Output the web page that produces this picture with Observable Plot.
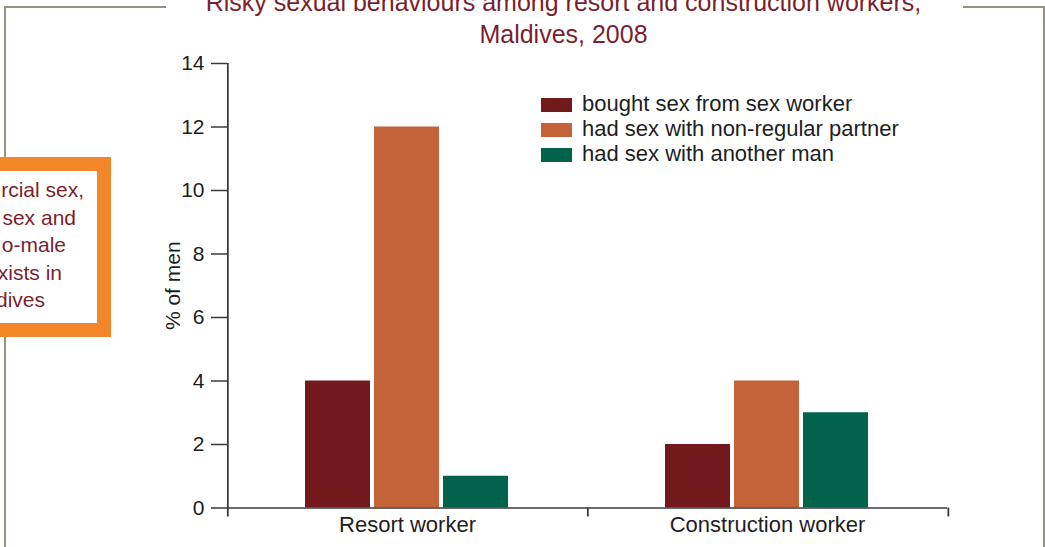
<!DOCTYPE html>
<html>
<head>
<meta charset="utf-8">
<script src="https://cdn.jsdelivr.net/npm/d3@7"></script>
<script src="https://cdn.jsdelivr.net/npm/@observablehq/plot@0.6"></script>
<style>
  html, body { margin: 0; padding: 0; background: #fff; }
  #wrap { position: relative; width: 1045px; height: 547px; overflow: hidden; background: #fff;
          font-family: "Liberation Sans", Arial, sans-serif; }
  #chart { position: absolute; left: 0; top: 0; }
  .fl { position: absolute; background: #93937f; }
  .title { position: absolute; left: 0; width: 1127px; text-align: center; white-space: nowrap;
           font-size: 25px; line-height: 32px; color: #7a1f2f; }
  #box { position: absolute; left: -30px; top: 157px; width: 141px; height: 180px; box-sizing: border-box;
         border: 14px solid #f4862a; background: #fff; }
  .note { position: absolute; white-space: nowrap; font-size: 21px; line-height: 27.5px; color: #7a1f2f; }
  #legend { position: absolute; left: 541px; top: 91px; }
  .lrow { display: flex; height: 25px; align-items: flex-start; }
  .sw { width: 31px; height: 14.5px; margin-top: 6.5px; }
  .lt { margin-left: 10px; font-size: 22px; line-height: 25px; color: #1e1e1e; white-space: nowrap; }
</style>
</head>
<body>
<div id="wrap">
  <div id="chart"></div>
</div>
<script>
// ---- data ----
const categories = ["Resort worker", "Construction worker"];
const series = ["bought sex from sex worker", "had sex with non-regular partner", "had sex with another man"];
const resortValues = [4, 12, 1];
const constructionValues = [2, 4, 3];
const seriesColors = ["#721a1b", "#c4623a", "#03624a"];
const yTicks = [0, 2, 4, 6, 8, 10, 12, 14];
const yLabel = "% of men";
const titleLines = ["Risky sexual behaviours among resort and construction workers,", "Maldives, 2008"];
const noteLines = ["rcial sex,", "sex and", "o-male", "xists in", "dives"];

// ---- table ----
const rows = [];
[resortValues, constructionValues].forEach((vals, ci) =>
  vals.forEach((v, si) => rows.push({category: categories[ci], series: series[si], value: v})));

// ---- layout ----
const W = 1045, H = 547, mL = 226, mR = 98, mT = 63, mB = 39.5;
const facetW = (W - mL - mR) / categories.length;
const padIn = 0.057, padOut = 1.1;
const inner = d3.scaleBand().domain(series).range([0, facetW]).paddingInner(padIn).paddingOuter(padOut);
const firstCenter = inner(series[0]) + inner.bandwidth() / 2;
const axisColor = "#3a3a3a";

const plot = Plot.plot({
  width: W, height: H, marginLeft: mL, marginRight: mR, marginTop: mT, marginBottom: mB,
  style: {fontFamily: "'Liberation Sans', Arial, sans-serif", fontSize: "21px", color: "#1e1e1e", background: "transparent"},
  fx: {domain: categories, padding: 0, label: null},
  x: {domain: series, paddingInner: padIn, paddingOuter: padOut, axis: null},
  y: {domain: [0, 14]},
  color: {domain: series, range: seriesColors},
  marks: [
    Plot.barY(rows, {fx: "category", x: "series", y: "value", fill: "series"}),
    Plot.ruleY([0], {stroke: axisColor, strokeWidth: 1.5}),
    // y axis line (first facet left edge), extending just below the baseline
    Plot.ruleX([categories[0]], {fx: d => d, x: () => series[0], y1: () => 14, y2: () => 0,
      insetBottom: -9, dx: -firstCenter, stroke: axisColor, strokeWidth: 1.8}),
    // category boundary ticks
    Plot.ruleX(categories.slice(1), {fx: d => d, x: () => series[0], y1: () => 0, y2: () => 0,
      insetBottom: -9, dx: -firstCenter, stroke: axisColor, strokeWidth: 1.8}),
    Plot.ruleX([categories[categories.length - 1]], {fx: d => d, x: () => series[0], y1: () => 0, y2: () => 0,
      insetBottom: -9, dx: facetW - firstCenter, stroke: axisColor, strokeWidth: 1.8}),
    Plot.axisY(yTicks, {tickSize: 16, tickPadding: 7, stroke: axisColor, strokeWidth: 1.5, fill: "#1e1e1e",
      fontSize: 21, label: yLabel, labelAnchor: "center", labelArrow: "none", labelOffset: 62}),
    Plot.axisFx({anchor: "bottom", tickSize: 0, tickPadding: 8, fontSize: 22, fill: "#1e1e1e", label: null})
  ]
});
document.getElementById("chart").appendChild(plot);

// ---- decorations (frame, title, side note, legend) ----
const wrap = document.getElementById("wrap");
function add(html) { wrap.insertAdjacentHTML("beforeend", html); }
add('<div class="fl" style="left:3.5px;top:6px;width:2px;height:560px"></div>');
add('<div class="fl" style="left:3.5px;top:6px;width:162px;height:2px"></div>');
add('<div class="fl" style="left:963px;top:6px;width:82px;height:2px"></div>');
add('<div class="fl" style="left:1042.5px;top:6px;width:2px;height:560px"></div>');
titleLines.forEach((t, i) => add(`<div class="title" style="top:${-14 + i * 32}px">${t}</div>`));
add('<div id="box"></div>');
const noteEnds = [84, 76, 66, 62, 45];
noteLines.forEach((t, i) => add(`<div class="note" style="right:${1045 - noteEnds[i]}px;top:${176.3 + i * 27.5}px">${t}</div>`));
add('<div id="legend">' + series.map((s, i) =>
  `<div class="lrow"><div class="sw" style="background:${seriesColors[i]}"></div><div class="lt">${s}</div></div>`).join("") + '</div>');
</script>
</body>
</html>
